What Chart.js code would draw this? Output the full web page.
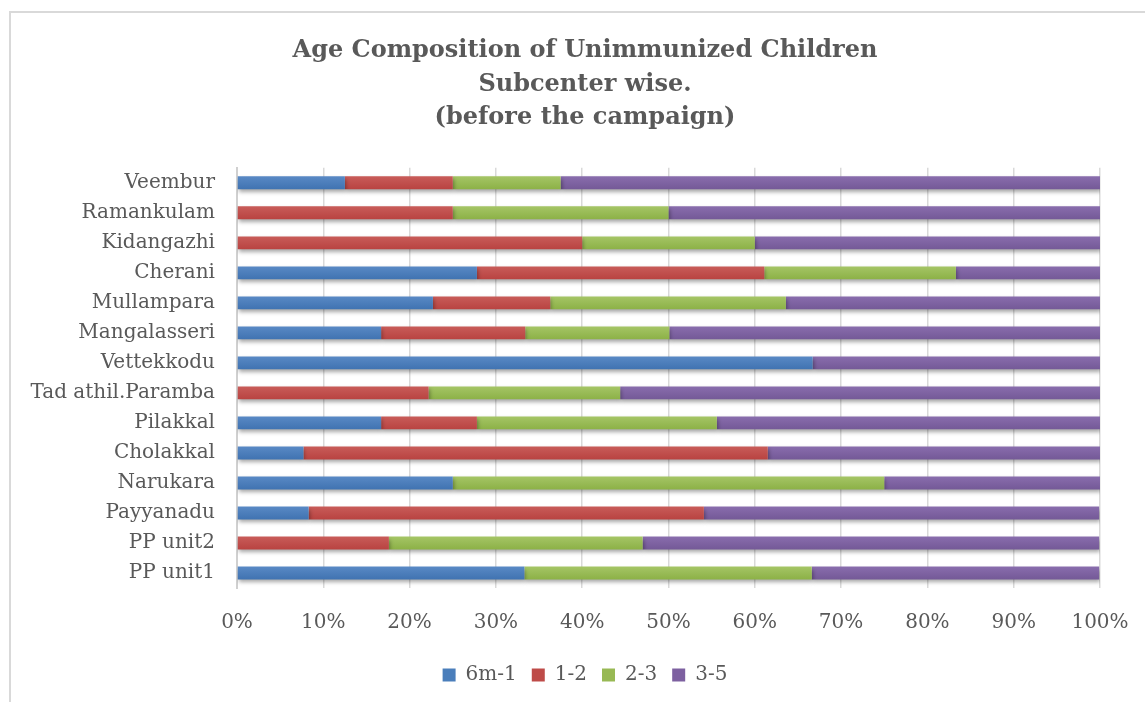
<!DOCTYPE html>
<html>
<head>
<meta charset="utf-8">
<script src="https://cdn.jsdelivr.net/npm/chart.js@4"></script>
<style>
  html, body { margin: 0; padding: 0; background: #fff; }
  #wrap { position: relative; width: 1145px; height: 702px; }
  #frame { position: absolute; left: 9px; top: 11px; right: -20px; bottom: -20px;
           border-left: 2px solid #d9d9d9; border-top: 2px solid #d9d9d9; }
  canvas { position: absolute; left: 0; top: 0; }
</style>
</head>
<body>
<div id="wrap">
  <div id="frame"></div>
  <canvas id="myChart" width="1145" height="702"></canvas>
</div>
<script>
  // SETUP BLOCK
  const subcenters = ['Veembur', 'Ramankulam', 'Kidangazhi', 'Cherani', 'Mullampara', 'Mangalasseri', 'Vettekkodu',
    'Tad athil.Paramba', 'Pilakkal', 'Cholakkal', 'Narukara', 'Payyanadu', 'PP unit2', 'PP unit1'];

  // share of unimmunized children per age group (%)
  const age6mTo1 = [12.5, 0, 0, 27.8, 22.7, 16.7, 66.7, 0, 16.7, 7.7, 25, 8.3, 0, 33.3];
  const age1To2  = [12.5, 25, 40, 33.3, 13.6, 16.7, 0, 22.2, 11.1, 53.8, 0, 45.8, 17.6, 0];
  const age2To3  = [12.5, 25, 20, 22.2, 27.3, 16.7, 0, 22.2, 27.8, 0, 50, 0, 29.4, 33.3];
  const age3To5  = [62.5, 50, 40, 16.7, 36.4, 50, 33.3, 55.6, 44.4, 38.5, 25, 45.8, 52.9, 33.3];

  const groupNames = ['6m-1', '1-2', '2-3', '3-5'];
  const colours = ['#4a7ebb', '#be4b48', '#98b954', '#7d60a0'];
  // light top / dark bottom for the bar shading
  const shadeTop = ['#5a8ac6', '#c95d5a', '#a6c667', '#8a6eae'];
  const shadeBottom = ['#3f72b0', '#b84240', '#8bb045', '#735896'];

  const fontFamily = '"DejaVu Serif", serif';
  const textColour = '#595959';

  function barFill(i) {
    return function (c) {
      const yScale = c.chart.scales.y;
      if (!yScale || c.type !== 'data' || !isFinite(yScale.getPixelForValue(c.dataIndex))) return colours[i];
      const mid = yScale.getPixelForValue(c.dataIndex);
      const g = c.chart.ctx.createLinearGradient(0, mid - 7, 0, mid + 7);
      g.addColorStop(0, shadeTop[i]);
      g.addColorStop(1, shadeBottom[i]);
      return g;
    };
  }

  const data = {
    labels: subcenters,
    datasets: [age6mTo1, age1To2, age2To3, age3To5].map((vals, i) => ({
      label: groupNames[i],
      data: vals,
      backgroundColor: barFill(i),
      borderWidth: 0,
      barPercentage: 0.43,
      categoryPercentage: 1
    }))
  };

  // soft drop shadow under the bars
  const barShadow = {
    id: 'barShadow',
    beforeDatasetsDraw(chart) {
      const ctx = chart.ctx;
      ctx.save();
      ctx.shadowColor = 'rgba(0,0,0,0.35)';
      ctx.shadowBlur = 4;
      ctx.shadowOffsetX = 1;
      ctx.shadowOffsetY = 3;
    },
    afterDatasetsDraw(chart) {
      chart.ctx.restore();
    }
  };

  // CONFIG BLOCK
  const config = {
    type: 'bar',
    data,
    plugins: [barShadow],
    options: {
      indexAxis: 'y',
      responsive: false,
      animation: false,
      layout: { padding: { left: 25, right: 0, top: 0, bottom: 7 } },
      plugins: {
        title: {
          display: true,
          text: ['Age Composition of Unimmunized Children', 'Subcenter wise.', '(before the campaign)'],
          color: textColour,
          font: { family: fontFamily, size: 24, weight: 'bold', lineHeight: 1.4 },
          padding: { top: 34, bottom: 33 }
        },
        legend: {
          position: 'bottom',
          labels: {
            color: textColour,
            boxWidth: 13,
            boxHeight: 13,
            padding: 15,
            font: { family: fontFamily, size: 20 },
            generateLabels(chart) {
              return groupNames.map((name, i) => ({
                text: name,
                fillStyle: colours[i],
                strokeStyle: colours[i],
                lineWidth: 0,
                fontColor: textColour,
                hidden: false,
                datasetIndex: i
              }));
            }
          }
        },
        tooltip: { enabled: false }
      },
      scales: {
        x: {
          stacked: true,
          min: 0,
          max: 100,
          afterFit(scale) {
            scale.paddingRight = 45;   // room for the 100% label
            scale.height -= 8;         // pull the legend closer to the tick labels
          },
          ticks: {
            stepSize: 10,
            color: textColour,
            padding: 23,
            font: { family: fontFamily, size: 20 },
            callback: v => v + '%'
          },
          grid: { color: '#d9d9d9', lineWidth: 1.5, drawTicks: false },
          border: { display: false }
        },
        y: {
          stacked: true,
          afterFit(scale) { scale.width = 212; },
          ticks: {
            color: textColour,
            padding: 22,
            font: { family: fontFamily, size: 20 }
          },
          grid: { display: false, drawTicks: false },
          border: { display: true, color: '#d0d0d0', width: 2 }
        }
      }
    }
  };

  // RENDER BLOCK
  const myChart = new Chart(document.getElementById('myChart'), config);
</script>
</body>
</html>
